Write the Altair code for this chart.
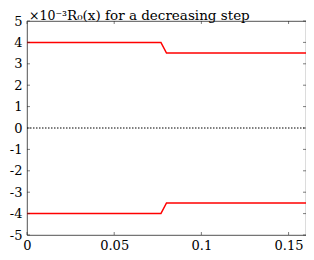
import altair as alt
import pandas as pd

x_pts = [0.0, 0.0768, 0.080, 0.16]
upper = [4.0, 4.0, 3.5, 3.5]
lower = [-4.0, -4.0, -3.5, -3.5]
zero_x = [0.0, 0.16]
zero_y = [0.0, 0.0]
xticks = [0, 0.05, 0.1, 0.15]
yticks = [-5, -4, -3, -2, -1, 0, 1, 2, 3, 4, 5]
title_text = ["R₀(x) for a decreasing step"]
exp_text = ["×10⁻³"]

W, H = 279, 214
FONT = "DejaVu Serif"

df = pd.DataFrame(
    [{"x": a, "y": b, "s": "up"} for a, b in zip(x_pts, upper)]
    + [{"x": a, "y": b, "s": "lo"} for a, b in zip(x_pts, lower)]
)
dz = pd.DataFrame({"x": zero_x, "y": zero_y})

xs = alt.Scale(domain=[0, 0.16], nice=False, zero=False)
ys = alt.Scale(domain=[-5, 5], nice=False, zero=False)

xaxis = alt.Axis(values=xticks, ticks=False, domain=False, grid=False,
                 labelFont=FONT, labelFontSize=13, labelColor="#000",
                 labelOverlap=False, labelFlush=False,
                 labelPadding=4, title=None,
                 labelExpr="datum.value == 0 ? '0' : format(datum.value, '')")
yaxis = alt.Axis(values=yticks, ticks=False, domain=False, grid=False,
                 labelFont=FONT, labelFontSize=13, labelColor="#000",
                 labelOverlap=False, labelFlush=False,
                 labelPadding=5, title=None,
                 labelExpr="replace(format(datum.value, 'd'), '−', '-')")

zero = alt.Chart(dz).mark_line(color="#000", strokeWidth=1, strokeDash=[1.5, 1.5]).encode(
    x=alt.X("x:Q", scale=xs, axis=xaxis), y=alt.Y("y:Q", scale=ys, axis=yaxis)
)

lines = alt.Chart(df).mark_line(color="#ff0000", strokeWidth=1.5).encode(
    x=alt.X("x:Q", scale=xs, axis=xaxis),
    y=alt.Y("y:Q", scale=ys, axis=yaxis),
    detail="s:N",
)

dyt = pd.DataFrame({"v": yticks})
dxt = pd.DataFrame({"v": xticks})
tc = "#262626"
yt_l = alt.Chart(dyt).mark_rule(color=tc, strokeWidth=0.6).encode(
    y=alt.Y("v:Q", scale=ys, axis=yaxis), x=alt.value(0), x2=alt.value(3))
yt_r = alt.Chart(dyt).mark_rule(color=tc, strokeWidth=0.6).encode(
    y=alt.Y("v:Q", scale=ys, axis=yaxis), x=alt.value(W - 3), x2=alt.value(W))
xt_b = alt.Chart(dxt).mark_rule(color=tc, strokeWidth=0.6).encode(
    x=alt.X("v:Q", scale=xs, axis=xaxis), y=alt.value(H - 3), y2=alt.value(H))
xt_t = alt.Chart(dxt).mark_rule(color=tc, strokeWidth=0.6).encode(
    x=alt.X("v:Q", scale=xs, axis=xaxis), y=alt.value(0), y2=alt.value(3))

exp_label = alt.Chart(pd.DataFrame({"t": exp_text})).mark_text(
    font=FONT, fontSize=12.5, align="left", baseline="alphabetic", color="#000"
).encode(x=alt.value(2), y=alt.value(-1), text="t:N")

title_label = alt.Chart(pd.DataFrame({"t": title_text})).mark_text(
    font=FONT, fontSize=13.5, align="left", baseline="alphabetic", color="#000"
).encode(x=alt.value(40), y=alt.value(-1), text="t:N")

chart = alt.layer(zero, lines, yt_l, yt_r, xt_b, xt_t, exp_label, title_label).properties(
    width=W, height=H,
    autosize=alt.AutoSizeParams(type="none"),
    padding={"left": 19, "top": 13, "right": 0, "bottom": 25},
).configure_view(stroke=tc, strokeWidth=0.8)

chart.save("out.html", embed_options={"renderer": "svg", "actions": False})
